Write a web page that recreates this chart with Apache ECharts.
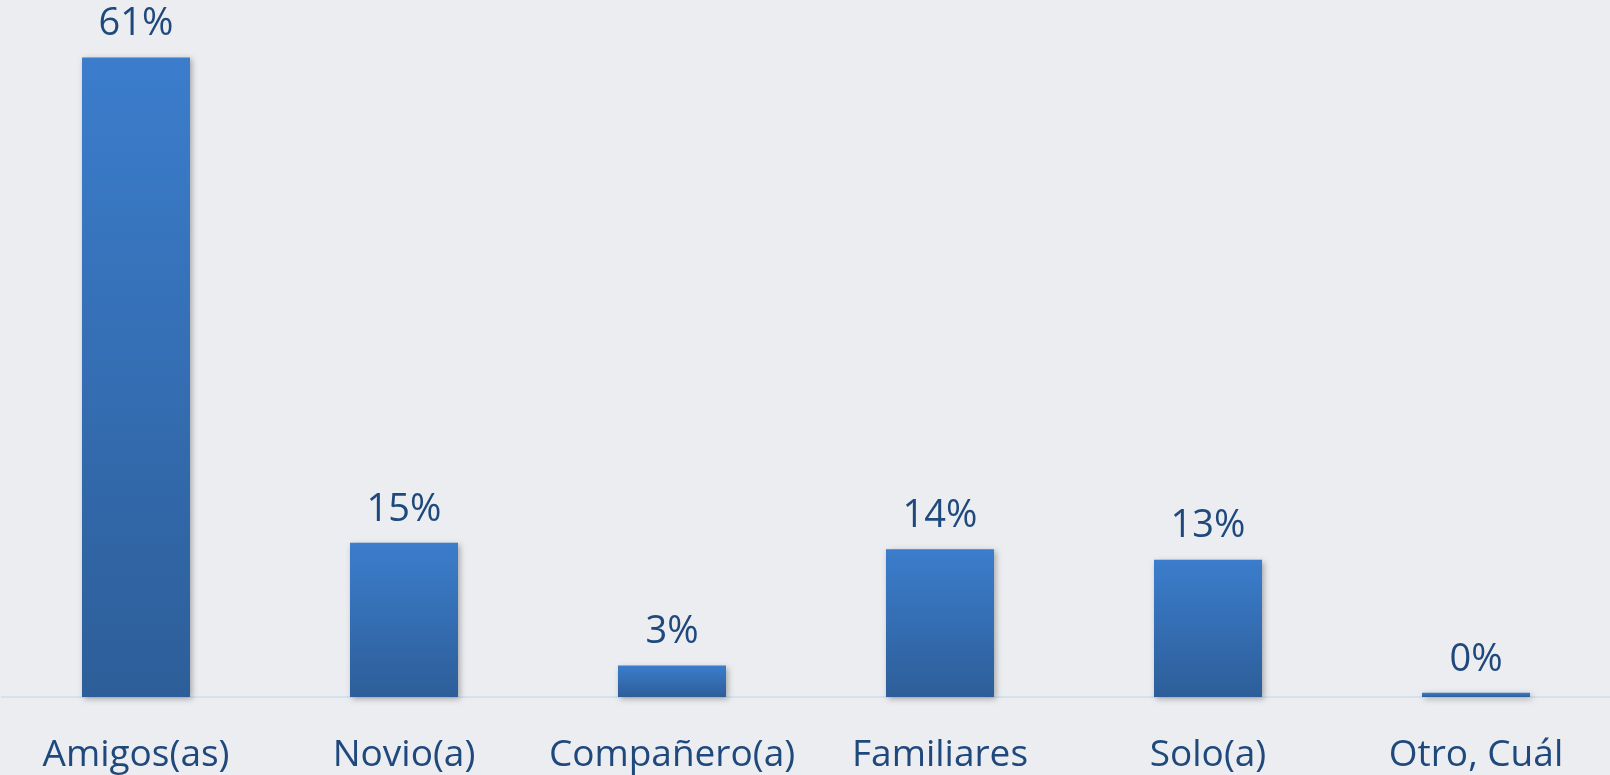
<!DOCTYPE html>
<html>
<head>
<meta charset="utf-8">
<script src="https://cdn.jsdelivr.net/npm/echarts@6/dist/echarts.min.js"></script>
<style>
  html, body { margin: 0; padding: 0; background: #ecedf0; }
  #chart { width: 1610px; height: 775px; }
</style>
</head>
<body>
<div id="chart"></div>
<script>
const categories = ["Amigos(as)", "Novio(a)", "Compañero(a)", "Familiares", "Solo(a)", "Otro, Cuál"];
const values = [61, 14.7, 3, 14.1, 13.1, 0.4];

const TEXT = "#1f497d";

const chart = echarts.init(document.getElementById("chart"), null, { renderer: "canvas" });
chart.setOption({
  backgroundColor: "#ecedf0",
  animation: false,
  grid: { left: 2, right: 0, top: 5, bottom: 78 },
  xAxis: {
    type: "category",
    data: categories,
    axisLine: { lineStyle: { color: "#d3e1f1", width: 2 } },
    axisTick: { show: false },
    axisLabel: { color: TEXT, fontSize: 37, fontFamily: "Open Sans", margin: 40, interval: 0 },
  },
  yAxis: { type: "value", min: 0, max: 66, show: false, splitLine: { show: false } },
  series: [{
    type: "bar",
    data: values,
    barWidth: 108,
    itemStyle: {
      color: new echarts.graphic.LinearGradient(0, 0, 0, 1, [
        { offset: 0, color: "#3b7dcc" },
        { offset: 1, color: "#2d5e99" },
      ]),
      shadowBlur: 6,
      shadowColor: "rgba(0,0,0,0.3)",
      shadowOffsetX: 2,
      shadowOffsetY: 2,
    },
    label: {
      show: true,
      position: "top",
      distance: 14,
      color: TEXT,
      fontSize: 38,
      fontFamily: "Open Sans",
      formatter: (p) => `${Math.round(p.value)}%`,
    },
  }],
});
</script>
</body>
</html>
